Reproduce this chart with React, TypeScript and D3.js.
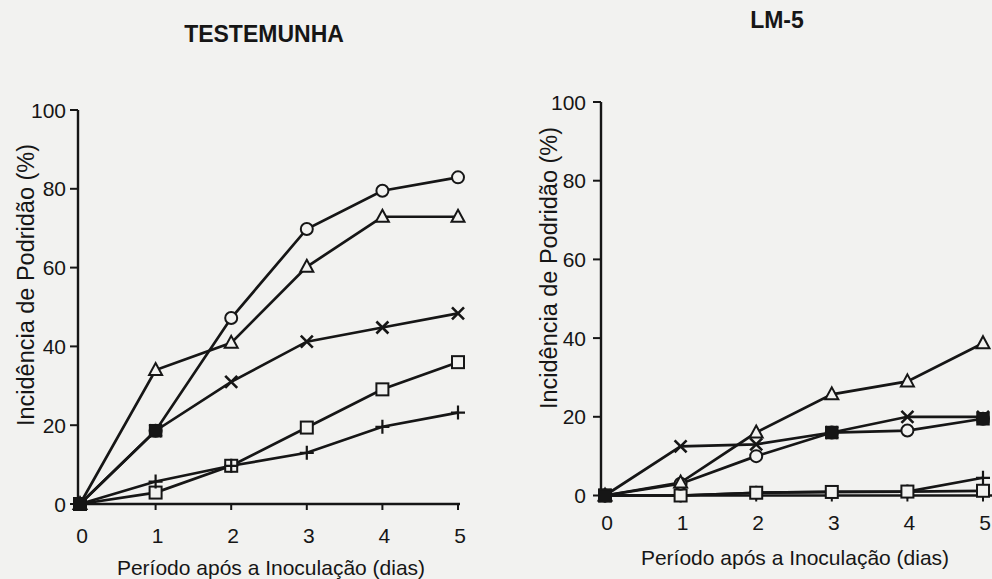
import React from "react";
import * as d3 from "d3";

// dias após a inoculação
const days = [0, 1, 2, 3, 4, 5];
const yTicks = [0, 20, 40, 60, 80, 100];

// TESTEMUNHA
const testCircle = [0, 18.6, 47.2, 69.8, 79.5, 82.9];
const testTriangle = [0, 34, 40.9, 60.2, 72.9, 72.9];
const testCross = [0, 18.6, 31, 41.2, 44.8, 48.4];
const testSquare = [0, 2.9, 9.7, 19.4, 29.1, 36];
const testPlus = [0, 5.7, 9.7, 13, 19.6, 23.2];

// LM-5
const lmCircle = [0, 3, 10, 16, 16.5, 19.5];
const lmTriangle = [0, 3.3, 16, 25.7, 29, 38.7];
const lmCross = [0, 12.5, 13, 16, 20, 20];
const lmSquare = [0, 0, 0.7, 0.9, 1, 1.2];
const lmPlus = [0, 0, 0.7, 0.9, 1, 4.5];

type MarkerKind = "circle" | "triangle" | "cross" | "square" | "plus" | "blob";

const INK = "#161616";
const PAPER = "#f2f2f0";
const FONT = "'Liberation Sans', Arial, sans-serif";

const Marker = ({ kind, x, y }: { kind: MarkerKind; x: number; y: number }) => {
  const s = 6;
  const common = { stroke: INK, strokeWidth: 2, fill: PAPER };
  if (kind === "blob")
    return <rect x={x - s} y={y - s} width={2 * s} height={2 * s} fill={INK} stroke={INK} strokeWidth={1.5} />;
  if (kind === "circle") return <circle cx={x} cy={y} r={s} {...common} />;
  if (kind === "square")
    return <rect x={x - s} y={y - s} width={2 * s} height={2 * s} {...common} />;
  if (kind === "triangle")
    return (
      <path
        d={`M${x},${y - s - 1} L${x + s + 0.5},${y + s - 1} L${x - s - 0.5},${y + s - 1} Z`}
        {...common}
      />
    );
  if (kind === "cross")
    return (
      <path
        d={`M${x - s},${y - s} L${x + s},${y + s} M${x - s},${y + s} L${x + s},${y - s}`}
        stroke={INK}
        strokeWidth={2.6}
        fill="none"
      />
    );
  return (
    <path
      d={`M${x - s - 1},${y} L${x + s + 1},${y} M${x},${y - s - 1} L${x},${y + s + 1}`}
      stroke={INK}
      strokeWidth={2.2}
      fill="none"
    />
  );
};

interface PanelProps {
  title: string;
  titleX: number;
  titleY: number;
  x0: number;
  x5: number;
  yBottom: number;
  yTop: number;
  axisX: number;
  axisEnd: number;
  tickLabelX: number;
  xLabelY: number;
  xTitleX: number;
  xTitleY: number;
  yTitleX: number;
  yTitleY: number;
  series: { kind: MarkerKind; values: number[] }[];
}

const Panel = (p: PanelProps) => {
  const x = d3.scaleLinear().domain([0, 5]).range([p.x0, p.x5]);
  const y = d3.scaleLinear().domain([0, 100]).range([p.yBottom, p.yTop]);
  const line = d3
    .line<number>()
    .x((_, i) => x(days[i]))
    .y((d) => y(d));

  // onde o círculo e o X coincidem (e na origem) o impresso mostra um ponto cheio
  const circle = p.series.find((s) => s.kind === "circle")!.values;
  const cross = p.series.find((s) => s.kind === "cross")!.values;
  const blobs = days.filter((_, i) => i === 0 || Math.abs(circle[i] - cross[i]) < 0.6);

  return (
    <g>
      <text
        x={p.titleX}
        y={p.titleY}
        textAnchor="middle"
        fontFamily={FONT}
        fontWeight="bold"
        fontSize={23}
        fill={INK}
      >
        {p.title}
      </text>

      {/* eixo Y */}
      <line x1={p.axisX} x2={p.axisX} y1={y(100)} y2={y(0)} stroke={INK} strokeWidth={2.4} />
      {yTicks.map((t) => (
        <g key={t}>
          <line x1={p.axisX - 8} x2={p.axisX} y1={y(t)} y2={y(t)} stroke={INK} strokeWidth={2} />
          <text
            x={p.tickLabelX}
            y={y(t)}
            dy="0.36em"
            textAnchor="end"
            fontFamily={FONT}
            fontSize={21}
            fill={INK}
          >
            {t}
          </text>
        </g>
      ))}

      {/* eixo X */}
      <line x1={p.axisX - 3} x2={p.axisEnd} y1={y(0)} y2={y(0)} stroke={INK} strokeWidth={2.4} />
      {days.map((d) => (
        <g key={d}>
          {d > 0 && (
            <line x1={x(d)} x2={x(d)} y1={y(0)} y2={y(0) + 6} stroke={INK} strokeWidth={2} />
          )}
          <text
            x={x(d) + 2}
            y={p.xLabelY}
            textAnchor="middle"
            fontFamily={FONT}
            fontSize={21}
            fill={INK}
          >
            {d}
          </text>
        </g>
      ))}

      <text
        x={p.xTitleX}
        y={p.xTitleY}
        textAnchor="middle"
        fontFamily={FONT}
        fontSize={21}
        fill={INK}
      >
        Período após a Inoculação (dias)
      </text>
      <text
        transform={`translate(${p.yTitleX},${p.yTitleY}) rotate(-90)`}
        textAnchor="middle"
        dy="0.35em"
        fontFamily={FONT}
        fontSize={23.5}
        fill={INK}
      >
        Incidência de Podridão (%)
      </text>

      {/* linhas */}
      {p.series.map((s) => (
        <path key={s.kind} d={line(s.values) || ""} fill="none" stroke={INK} strokeWidth={2.7} />
      ))}
      {/* marcadores */}
      {p.series.map((s) =>
        s.values.map((v, i) => (
          <Marker key={`${s.kind}-${i}`} kind={s.kind} x={x(days[i])} y={y(v)} />
        ))
      )}
      {blobs.map((d) => (
        <Marker key={`blob-${d}`} kind="blob" x={x(d)} y={y(circle[d])} />
      ))}
    </g>
  );
};

export default function App() {
  return (
    <svg
      width={992}
      height={579}
      style={{ position: "fixed", left: 0, top: 0, display: "block", background: PAPER }}
    >
      <rect width={992} height={579} fill={PAPER} />
      <Panel
        title="TESTEMUNHA"
        titleX={264}
        titleY={42}
        x0={80}
        x5={458}
        yBottom={504}
        yTop={110}
        axisX={78}
        axisEnd={460}
        tickLabelX={66}
        xLabelY={543}
        xTitleX={271}
        xTitleY={575}
        yTitleX={26}
        yTitleY={285}
        series={[
          { kind: "square", values: testSquare },
          { kind: "plus", values: testPlus },
          { kind: "cross", values: testCross },
          { kind: "triangle", values: testTriangle },
          { kind: "circle", values: testCircle },
        ]}
      />
      <Panel
        title="LM-5"
        titleX={777}
        titleY={28}
        x0={605}
        x5={983}
        yBottom={495.5}
        yTop={102}
        axisX={601}
        axisEnd={992}
        tickLabelX={586}
        xLabelY={530}
        xTitleX={795}
        xTitleY={565}
        yTitleX={549}
        yTitleY={268}
        series={[
          { kind: "plus", values: lmPlus },
          { kind: "square", values: lmSquare },
          { kind: "circle", values: lmCircle },
          { kind: "cross", values: lmCross },
          { kind: "triangle", values: lmTriangle },
        ]}
      />
    </svg>
  );
}
